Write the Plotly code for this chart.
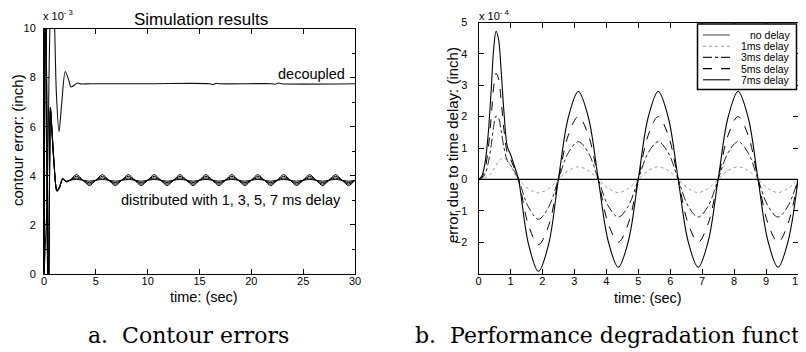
import plotly.graph_objects as go

# The page body has an 8px margin, so the figure is 798x344 and placed at (8, 8).
OFF = 8
W, H = 806 - OFF, 352 - OFF

# ---------------- Panel a: contour errors (x 1e-3 inch) ----------------
t_dec = [0, 0.3, 0.5, 0.65, 0.85, 1.03, 1.2, 1.45, 1.7, 2.05, 2.35, 2.6, 2.9, 3.2, 3.6, 4.5,
         10, 16.0, 16.3, 16.6, 16.9, 22.0, 22.3, 22.6, 22.9, 30]
e_dec = [0, 3, 8.5, 11.5, 13, 10, 7.3, 5.8, 6.9, 8.25, 7.95, 7.62, 7.68, 7.78, 7.74, 7.75,
         7.75, 7.75, 7.71, 7.77, 7.75, 7.75, 7.73, 7.78, 7.75, 7.75]

t_dist = [0, 0.08, 0.15, 0.25, 0.33, 0.4, 0.47, 0.55, 0.62, 0.75, 0.95, 1.25, 1.5, 1.8, 2.15, 2.5,
          3.125, 3.75, 4.375, 5.0, 5.625, 6.25, 6.875, 7.5, 8.125, 8.75, 9.375, 10.0,
          10.625, 11.25, 11.875, 12.5, 13.125, 13.75, 14.375, 15.0, 15.625, 16.25, 16.875, 17.5,
          18.125, 18.75, 19.375, 20.0, 20.625, 21.25, 21.875, 22.5, 23.125, 23.75, 24.375, 25.0,
          25.625, 26.25, 26.875, 27.5, 28.125, 28.75, 29.375, 30.0]
e_dist_1ms = [0, 7.9, 13.4, 8.1, 1.4, -1.9, -0.1, 4.4, 6.65, 5.9, 4.55, 3.42, 3.57, 3.86, 3.78, 3.82,
              3.85, 3.82, 3.78, 3.82, 3.85, 3.82, 3.78, 3.82, 3.85, 3.82, 3.78, 3.82,
              3.85, 3.82, 3.78, 3.82, 3.85, 3.82, 3.78, 3.82, 3.85, 3.82, 3.78, 3.82,
              3.85, 3.82, 3.78, 3.82, 3.85, 3.82, 3.78, 3.82, 3.85, 3.82, 3.78, 3.82,
              3.85, 3.82, 3.78, 3.82, 3.85, 3.82, 3.78, 3.82]
e_dist_3ms = [0, 8.1, 13.6, 7.9, 1.1, -2.1, 0.1, 4.6, 6.7, 5.95, 4.6, 3.4, 3.55, 3.87, 3.77, 3.82,
              3.91, 3.82, 3.72, 3.82, 3.91, 3.82, 3.72, 3.82, 3.91, 3.82, 3.72, 3.82,
              3.91, 3.82, 3.72, 3.82, 3.91, 3.82, 3.72, 3.82, 3.91, 3.82, 3.72, 3.82,
              3.91, 3.82, 3.72, 3.82, 3.91, 3.82, 3.72, 3.82, 3.91, 3.82, 3.72, 3.82,
              3.91, 3.82, 3.72, 3.82, 3.91, 3.82, 3.72, 3.82]
e_dist_5ms = [0, 8.3, 13.8, 7.7, 0.8, -2.3, 0.3, 4.8, 6.75, 6.0, 4.65, 3.38, 3.52, 3.88, 3.76, 3.82,
              3.98, 3.82, 3.66, 3.82, 3.98, 3.82, 3.66, 3.82, 3.98, 3.82, 3.66, 3.82,
              3.98, 3.82, 3.66, 3.82, 3.98, 3.82, 3.66, 3.82, 3.98, 3.82, 3.66, 3.82,
              3.98, 3.82, 3.66, 3.82, 3.98, 3.82, 3.66, 3.82, 3.98, 3.82, 3.66, 3.82,
              3.98, 3.82, 3.66, 3.82, 3.98, 3.82, 3.66, 3.82]
e_dist_7ms = [0, 8.5, 14, 7.5, 0.5, -2.5, 0.5, 5.0, 6.8, 6.0, 4.7, 3.36, 3.5, 3.9, 3.75, 3.82,
              4.05, 3.82, 3.6, 3.82, 4.05, 3.82, 3.6, 3.82, 4.05, 3.82, 3.6, 3.82,
              4.05, 3.82, 3.6, 3.82, 4.05, 3.82, 3.6, 3.82, 4.05, 3.82, 3.6, 3.82,
              4.05, 3.82, 3.6, 3.82, 4.05, 3.82, 3.6, 3.82, 4.05, 3.82, 3.6, 3.82,
              4.05, 3.82, 3.6, 3.82, 4.05, 3.82, 3.6, 3.82]

# ---------------- Panel b: error due to time delay (x 1e-4 inch) ----------------
t_b = [0, 0.1, 0.2, 0.3, 0.4, 0.47, 0.55, 0.63, 0.7, 0.8, 0.9, 1.0, 1.1, 1.25, 1.5625, 1.875, 2.1875, 2.5,
       2.8125, 3.125, 3.4375, 3.75, 4.0625, 4.375, 4.6875, 5.0,
       5.3125, 5.625, 5.9375, 6.25, 6.5625, 6.875, 7.1875, 7.5,
       7.8125, 8.125, 8.4375, 8.75, 9.0625, 9.375, 9.6875, 10.0]
err_none = [0, 0, 0, 0, 0, 0, 0, 0, 0, 0, 0, 0, 0, 0, 0, 0, 0, 0,
            0, 0, 0, 0, 0, 0, 0, 0, 0, 0, 0, 0, 0, 0, 0, 0, 0, 0, 0, 0, 0, 0, 0, 0]
err_1ms = [0, 0.01, 0.04, 0.1, 0.2, 0.3, 0.45, 0.58, 0.65, 0.68, 0.6, 0.45, 0.25, 0.0, -0.3, -0.43, -0.3, 0.0,
           0.28, 0.4, 0.28, 0.0, -0.29, -0.42, -0.29, 0.0,
           0.28, 0.4, 0.28, 0.0, -0.29, -0.42, -0.29, 0.0,
           0.28, 0.4, 0.28, 0.0, -0.29, -0.42, -0.29, 0.0]
err_3ms = [0, 0.03, 0.15, 0.5, 1.1, 1.65, 2.02, 1.95, 1.6, 1.0, 0.6, 0.45, 0.3, 0.0, -0.88, -1.27, -0.9, 0.0,
           0.85, 1.2, 0.85, 0.0, -0.85, -1.2, -0.85, 0.0,
           0.85, 1.2, 0.85, 0.0, -0.85, -1.2, -0.85, 0.0,
           0.85, 1.2, 0.85, 0.0, -0.85, -1.2, -0.85, 0.0]
err_5ms = [0, 0.05, 0.3, 0.95, 2.0, 2.9, 3.38, 3.2, 2.6, 1.55, 0.85, 0.65, 0.4, 0.0, -1.45, -2.08, -1.5, 0.0,
           1.41, 2.0, 1.41, 0.0, -1.41, -2.0, -1.41, 0.0,
           1.41, 2.0, 1.41, 0.0, -1.41, -2.0, -1.41, 0.0,
           1.41, 2.0, 1.41, 0.0, -1.41, -2.0, -1.41, 0.0]
err_7ms = [0, 0.1, 0.5, 1.4, 2.9, 4.1, 4.72, 4.45, 3.6, 2.1, 1.05, 0.8, 0.5, 0.0, -2.05, -2.93, -2.1, 0.0,
           1.98, 2.8, 1.98, 0.0, -1.98, -2.8, -1.98, 0.0,
           1.98, 2.8, 1.98, 0.0, -1.98, -2.8, -1.98, 0.0,
           1.98, 2.8, 1.98, 0.0, -1.98, -2.8, -1.98, 0.0]

legend_labels = ["no delay", "1ms delay", "3ms delay", "5ms delay", "7ms delay"]
x_ticks_a = [0, 5, 10, 15, 20, 25, 30]
y_ticks_a = [0, 2, 4, 6, 8, 10]
x_ticks_b = [0, 1, 2, 3, 4, 5, 6, 7, 8, 9, 10]
y_ticks_b = [-2, -1, 0, 1, 2, 3, 4, 5]

SANS = "Liberation Sans, Arial, Helvetica, sans-serif"
SERIF = "DejaVu Serif, serif"


def px(x):
    """screen pixel x -> paper fraction"""
    return (x - OFF) / W


def py(y):
    """screen pixel y (from top) -> paper fraction"""
    return 1 - (y - OFF) / H


fig = go.Figure()

# panel a traces
fig.add_trace(go.Scatter(x=t_dec, y=e_dec, mode="lines", xaxis="x", yaxis="y",
                         line=dict(color="#111", width=1.1, shape="spline", smoothing=0.8)))
for ys in [e_dist_1ms, e_dist_3ms, e_dist_5ms, e_dist_7ms]:
    fig.add_trace(go.Scatter(x=t_dist, y=ys, mode="lines", xaxis="x", yaxis="y",
                             line=dict(color="#000", width=1.0, shape="spline", smoothing=0.8)))

# panel b traces
styles_b = [
    (err_none, "#000", "solid", 1.3),
    (err_1ms, "#9a9a9a", "dot", 1.0),
    (err_3ms, "#222", "dashdot", 1.0),
    (err_5ms, "#000", "dash", 1.0),
    (err_7ms, "#000", "solid", 1.1),
]
for (ys, col, dash, lw), name in zip(styles_b, legend_labels):
    fig.add_trace(go.Scatter(x=t_b, y=ys, mode="lines", xaxis="x2", yaxis="y2", name=name,
                             line=dict(color=col, width=lw, dash=dash, shape="spline", smoothing=1.0)))

axis_common = dict(showline=True, linecolor="black", linewidth=1, mirror="ticks",
                   ticks="inside", ticklen=5, tickcolor="black", tickwidth=1,
                   showgrid=False, zeroline=False,
                   tickfont=dict(family=SANS, size=11, color="black"))

fig.update_layout(
    width=W, height=H,
    margin=dict(l=0, r=0, t=0, b=0, autoexpand=False),
    paper_bgcolor="white", plot_bgcolor="white",
    showlegend=False,
    xaxis=dict(domain=[px(44), px(355)], range=[0, 30], tickvals=x_ticks_a,
               anchor="y", ticklabelstandoff=-3, **axis_common),
    yaxis=dict(domain=[py(274), py(28.5)], range=[0, 10], tickvals=y_ticks_a,
               anchor="x", ticklabelstandoff=5,
               minor=dict(dtick=1, ticks="inside", ticklen=3, tickcolor="black"), **axis_common),
    xaxis2=dict(domain=[px(478.5), px(798)], range=[0, 10], tickvals=x_ticks_b,
                anchor="y2", ticklabelstandoff=-3, **axis_common),
    yaxis2=dict(domain=[py(273.5), py(22.5)], range=[-3, 5], tickvals=y_ticks_b,
                anchor="x2", ticklabelstandoff=8, **axis_common),
)


def label(text, x, y, size, family=SANS, angle=0, xanchor="center"):
    return dict(text=text, x=px(x), y=py(y), xref="paper", yref="paper",
                xanchor=xanchor, yanchor="middle", textangle=angle, showarrow=False,
                font=dict(family=family, size=size, color="black"))


ann = [
    label("Simulation results", 201, 19, 17),
    label("x 10<sup>- 3</sup>", 41, 15, 11, xanchor="left"),
    label("x 10<sup>- 4</sup>", 477, 15, 11, xanchor="left"),
    label("time: (sec)", 204, 297, 14.5),
    label("time: (sec)", 648, 298, 14.5),
    label("contour error: (inch)", 17, 140, 15, angle=-90),
    label("error due to time delay: (inch)", 452, 145, 15, angle=-90),
    label("a.  Contour errors", 188, 335, 22, family=SERIF),
    label("b.  Performance degradation function", 413, 335, 22, family=SERIF, xanchor="left"),
    dict(text="decoupled", x=29.2, y=8.16, xref="x", yref="y", xanchor="right", yanchor="middle",
         showarrow=False, font=dict(family=SANS, size=14.5, color="black")),
    dict(text="distributed with 1, 3, 5, 7 ms delay", x=28.85, y=3.0, xref="x", yref="y",
         xanchor="right", yanchor="middle", showarrow=False,
         font=dict(family=SANS, size=14.5, color="black")),
]

# manual legend (compact MATLAB style)
shapes = [dict(type="rect", xref="paper", yref="paper", x0=px(697.5), x1=px(796.5),
               y0=py(89.5), y1=py(24), line=dict(color="black", width=1.5),
               fillcolor="white", layer="above")]
row_y = [35, 46.2, 57.4, 68.6, 79.8]
for (ys, col, dash, lw), name, ry in zip(styles_b, legend_labels, row_y):
    lcol = "#555" if name == "no delay" else col
    shapes.append(dict(type="line", xref="paper", yref="paper", x0=px(703), x1=px(730),
                       y0=py(ry), y1=py(ry), line=dict(color=lcol, width=1.1, dash=dash),
                       layer="above"))
    ann.append(label(name, 792, ry, 10.5, xanchor="right"))

fig.update_layout(annotations=ann, shapes=shapes)

fig.write_html("out.html")
